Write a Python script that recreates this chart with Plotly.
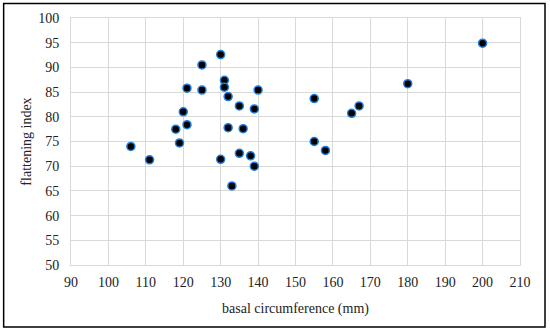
import plotly.graph_objects as go

circumference = [106, 111, 118, 119, 120, 121, 121, 125, 125, 130, 130, 131, 131, 132, 132,
                 133, 135, 135, 136, 138, 139, 139, 140, 155, 155, 158, 165, 167, 180, 200]
flattening = [74.0, 71.3, 77.5, 74.7, 81.0, 78.4, 85.8, 90.5, 85.4, 92.6, 71.4, 87.4, 86.0, 84.1, 77.8,
              66.0, 82.2, 72.6, 77.6, 72.1, 81.6, 70.0, 85.4, 83.7, 75.0, 73.2, 80.7, 82.2, 86.7, 94.9]

x_ticks = list(range(90, 211, 10))
y_ticks = list(range(50, 101, 5))

FONT = "Liberation Serif"
GRID = "#d9d9d9"

fig = go.Figure()
fig.add_trace(go.Scatter(
    x=circumference, y=flattening, mode="markers",
    marker=dict(size=8, color="black", line=dict(color="#1f7fe0", width=1.5)),
    showlegend=False, cliponaxis=False,
))

fig.update_layout(
    width=550, height=331,
    margin=dict(l=71, r=30, t=18, b=66),
    paper_bgcolor="white", plot_bgcolor="white",
    font=dict(family=FONT, size=14, color="#222222"),
    xaxis=dict(range=[90, 210], tickvals=x_ticks, showgrid=True, gridcolor=GRID, gridwidth=1,
               zeroline=False, showline=True, linecolor=GRID, linewidth=1, mirror=True,
               ticks="", ticklabelstandoff=4, automargin=False,
               title=dict(text="basal circumference (mm)", font=dict(family=FONT, size=14), standoff=14)),
    yaxis=dict(range=[50, 100], tickvals=y_ticks, showgrid=True, gridcolor=GRID, gridwidth=1,
               zeroline=False, showline=True, linecolor=GRID, linewidth=1, mirror=True,
               ticks="", ticklabelstandoff=8, automargin=False,
               title=dict(text="flattening index", font=dict(family=FONT, size=14), standoff=3)),
    shapes=[dict(type="rect", xref="paper", yref="paper",
                 x0=-0.150, x1=1.0557, y0=-0.251, y1=1.0587,
                 line=dict(color="black", width=1.5), fillcolor="rgba(0,0,0,0)", layer="below")],
)

fig.write_html("out.html", config={"displayModeBar": False},
               post_script="document.body.style.margin='0';")
